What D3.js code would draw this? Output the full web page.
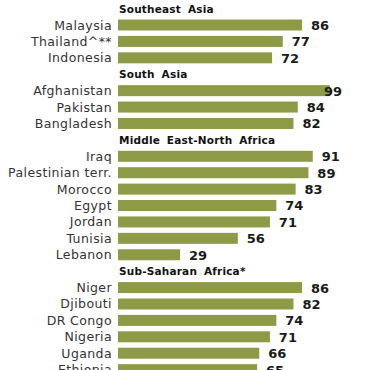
<!DOCTYPE html>
<html>
<head>
<meta charset="utf-8">
<script src="https://cdn.jsdelivr.net/npm/d3@7"></script>
<style>
  body { margin: 0; background: #fff; }
  svg { display: block; }
</style>
</head>
<body>
<div id="chart"></div>
<script>
// regions, with their countries and values, in drawing order
const regions = ["Southeast Asia", "South Asia", "Middle East-North Africa", "Sub-Saharan Africa*"];
const countries = [
  ["Malaysia", "Thailand^**", "Indonesia"],
  ["Afghanistan", "Pakistan", "Bangladesh"],
  ["Iraq", "Palestinian terr.", "Morocco", "Egypt", "Jordan", "Tunisia", "Lebanon"],
  ["Niger", "Djibouti", "DR Congo", "Nigeria", "Uganda", "Ethiopia"]
];
const values = [
  [86, 77, 72],
  [99, 84, 82],
  [91, 89, 83, 74, 71, 56, 29],
  [86, 82, 74, 71, 66, 65]
];

const width = 378, height = 370;

// flatten into rows: a header row for each region, then its bars
const rows = [];
regions.forEach((r, i) => {
  rows.push({ type: 'header', label: r, key: 'h' + i });
  countries[i].forEach((c, j) => {
    rows.push({ type: 'bar', label: c, value: values[i][j], key: c });
  });
});

const rowStep = 16.41;
const y = d3.scaleBand()
  .domain(rows.map(d => d.key))
  .range([0.4, 0.4 + rowStep * rows.length])
  .paddingInner(0.33)
  .paddingOuter(0.165);

const x = d3.scaleLinear().domain([0, 100]).range([118, 332]);

const svg = d3.select('#chart')
  .append('svg')
  .attr('width', width)
  .attr('height', height);

const bars = rows.filter(d => d.type === 'bar');
const headers = rows.filter(d => d.type === 'header');

svg.selectAll('rect.bar')
  .data(bars)
  .enter()
  .append('rect')
  .attr('class', 'bar')
  .attr('x', x(0))
  .attr('y', d => y(d.key))
  .attr('width', d => x(d.value) - x(0))
  .attr('height', y.bandwidth())
  .attr('fill', '#8e9a46');

svg.selectAll('text.label')
  .data(bars)
  .enter()
  .append('text')
  .attr('class', 'label')
  .attr('x', 112)
  .attr('y', d => y(d.key) + y.bandwidth() / 2)
  .attr('dy', '0.36em')
  .attr('text-anchor', 'end')
  .style('font-family', 'Verdana, "DejaVu Sans", sans-serif')
  .style('font-size', '12.5px')
  .style('letter-spacing', '0.4px')
  .style('fill', '#333')
  .text(d => d.label);

svg.selectAll('text.value')
  .data(bars)
  .enter()
  .append('text')
  .attr('class', 'value')
  .attr('x', d => Math.min(x(d.value) + 27, 342))
  .attr('y', d => y(d.key) + y.bandwidth() / 2)
  .attr('dy', '0.38em')
  .attr('text-anchor', 'end')
  .style('font-family', 'Verdana, "DejaVu Sans", sans-serif')
  .style('font-size', '13px')
  .style('font-weight', 'bold')
  .style('fill', '#1a1a1a')
  .text(d => d.value);

svg.selectAll('text.header')
  .data(headers)
  .enter()
  .append('text')
  .attr('class', 'header')
  .attr('x', 119)
  .attr('y', d => y(d.key) + y.bandwidth() / 2)
  .attr('dy', '0.4em')
  .style('font-family', 'Verdana, "DejaVu Sans", sans-serif')
  .style('font-size', '10.5px')
  .style('font-weight', 'bold')
  .style('letter-spacing', '0.2px')
  .style('word-spacing', '3px')
  .style('fill', '#111')
  .text(d => d.label);
</script>
</body>
</html>
